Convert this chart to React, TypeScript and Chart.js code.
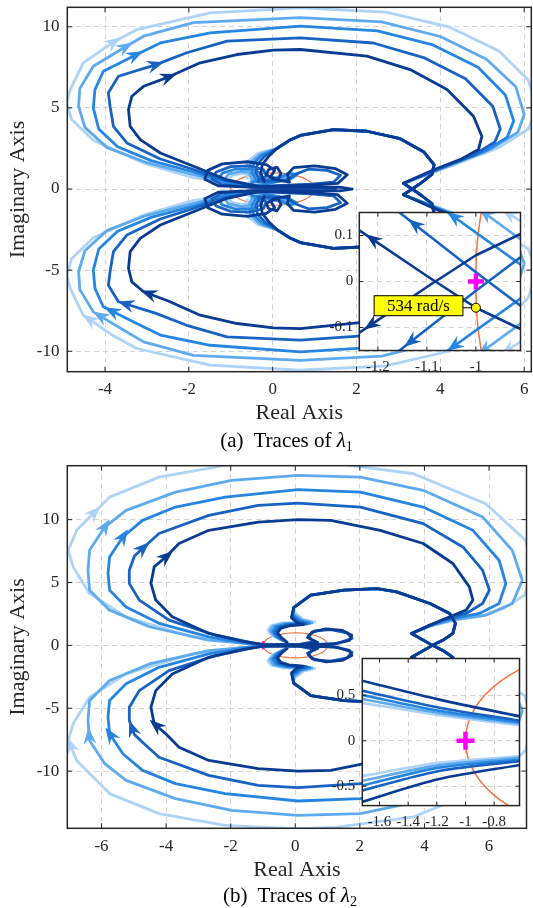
import React, { useEffect, useRef } from "react";
import { Chart, registerables } from "chart.js";

Chart.register(...registerables);

type P = [number, number];

// ================= shared styling =================
const SHADES = ["#aed3f6", "#5eaaee", "#2585e0", "#1862c2", "#0a3b93"]; // lightest -> darkest
const CIRCLE_COLOR = "#f2733f";
const MARK_COLOR = "#ff00ff";
const TEXT = "#262626";
const SERIF = "'Liberation Serif', 'Times New Roman', 'DejaVu Serif', serif";

// ================= (a) traces of λ1 =================
const topXRange: P = [-4.9, 6.17];
const topYRange: P = [-11.26, 11.2];
const topXTicks = [-4, -2, 0, 2, 4, 6];
const topYTicks = [-10, -5, 0, 5, 10];

// upper-half branch of each trace (the lower half is its conjugate mirror)
const topLoopC1: P[] = [
  [0.3, 0], [-0.4, 0.12], [-0.85, 0.35],
  [-1.05, 0.62], [-0.95, 0.85], [-0.72, 0.95], [-0.5, 0.85], [-0.42, 0.62], [-0.55, 0.45],
  [-0.5, 0.22], [-1.3, 0.48], [-1.89, 0.7], [-3.08, 1.6], [-4.28, 3.0], [-4.8, 4.3], [-4.91, 5.3], [-4.83, 6.13],
  [-4.52, 7.78], [-3.8, 9.05], [-3.24, 9.83], [-1.49, 10.86], [0.66, 11.17], [2.7, 10.9], [4.2, 10.0], [5.4, 8.5],
  [6.1, 6.7], [6.3, 5.0], [6.1, 3.7], [5.4, 2.55], [4.3, 1.47], [3.12, 0.35], [3.33, 0],
];
const topLoopC2: P[] = [
  [0.5, 0], [-0.2, 0.1], [-0.9, 0.3],
  [-1.15, 0.6], [-1.05, 0.92], [-0.75, 1.08], [-0.45, 0.98], [-0.35, 0.7], [-0.5, 0.45],
  [0.25, 0.8], [0.4, 1.0], [0.52, 0.85],
  [-0.45, 0.2], [-1.25, 0.5], [-1.89, 0.88], [-3.0, 1.62], [-3.95, 2.55], [-4.48, 3.8], [-4.63, 5.1], [-4.6, 6.2],
  [-4.28, 7.57], [-3.52, 8.75], [-3.08, 9.42], [-1.89, 10.25], [0.66, 10.56], [2.6, 10.3], [4.0, 9.4], [5.1, 8.0],
  [5.8, 6.3], [6.0, 4.6], [5.85, 3.5], [5.2, 2.45], [4.2, 1.42], [3.12, 0.35], [3.33, 0],
];
const topLoopC3: P[] = [
  [0.9, 0], [0.3, 0.08], [-0.5, 0.12], [-1.1, 0.3],
  [-1.3, 0.62], [-1.2, 0.98], [-0.9, 1.22], [-0.5, 1.22], [-0.28, 0.98], [-0.3, 0.62], [-0.5, 0.4],
  [0.2, 0.72], [0.38, 0.98], [0.58, 0.88], [0.42, 0.62],
  [-0.4, 0.18], [-1.2, 0.52], [-1.89, 1.05], [-2.9, 1.75], [-3.7, 2.6], [-4.15, 3.7], [-4.28, 5.0], [-4.24, 6.13],
  [-4.04, 7.26], [-3.28, 8.25], [-2.68, 9.0], [-1.49, 9.63], [0.66, 10.04], [2.5, 9.75], [3.8, 8.9], [4.9, 7.5],
  [5.55, 5.8], [5.75, 4.2], [5.6, 3.2], [5.05, 2.3], [4.1, 1.38], [3.12, 0.35], [3.33, 0],
];
const topLoopC4: P[] = [
  [1.5, 0], [1.2, 0.1], [0.3, 0.09], [-0.5, 0.12], [-1.2, 0.25],
  [-1.45, 0.62], [-1.35, 1.05], [-1.0, 1.38], [-0.55, 1.42], [-0.22, 1.2], [-0.15, 0.8], [-0.35, 0.48],
  [0.3, 0.5], [0.55, 0.92], [0.85, 1.22], [1.3, 1.15], [1.62, 0.85], [1.45, 0.42], [0.9, 0.3],
  [-0.35, 0.16], [-1.15, 0.55], [-1.89, 1.2], [-2.68, 1.85], [-3.48, 2.84], [-3.8, 3.86], [-3.88, 5.1], [-3.92, 5.93],
  [-3.68, 6.95], [-2.8, 7.65], [-2.05, 8.4], [-1.09, 9.11], [0.66, 9.32], [2.4, 9.0], [3.6, 8.1], [4.6, 6.8],
  [5.25, 5.1], [5.43, 3.7], [5.3, 2.9], [4.8, 2.1], [3.95, 1.25], [3.12, 0.35], [3.33, 0],
];
const topLoopC5: P[] = [
  [1.9, 0], [1.6, 0.12], [0.6, 0.1], [-0.4, 0.1], [-1.3, 0.2],
  [-1.62, 0.6], [-1.55, 1.15], [-1.2, 1.55], [-0.6, 1.68], [-0.15, 1.5], [0.05, 1.15], [-0.05, 0.75],
  [0.12, 0.58], [0.2, 0.95], [0.1, 1.35], [-0.1, 1.2], [-0.15, 0.9], [0.0, 0.62],
  [0.4, 0.42], [0.35, 0.9], [0.5, 1.32], [1.0, 1.42], [1.5, 1.25], [1.78, 0.88], [1.55, 0.35], [1.0, 0.25], [0.5, 0.2],
  [-0.3, 0.14], [-1.09, 0.57], [-1.89, 1.4], [-2.68, 2.22], [-3.16, 3.04], [-3.4, 3.86], [-3.44, 4.9], [-3.36, 5.72],
  [-3.08, 6.33], [-2.49, 6.9], [-1.73, 7.78], [-0.85, 8.29], [0.02, 8.56], [0.66, 8.6], [2.25, 8.19], [3.28, 7.36],
  [4.16, 6.13], [4.79, 4.48], [4.99, 3.25], [4.91, 2.43], [4.47, 1.81], [3.84, 1.19], [3.12, 0.35], [3.33, 0],
];
// inner arc (upper half): colour-specific start, shared tail
const topArcLeadC1: P[] = [[-0.6, 0.65], [-0.66, 1.15], [-0.6, 1.7], [-0.35, 2.2]];
const topArcLeadC2: P[] = [[-0.5, 0.6], [-0.58, 1.1], [-0.52, 1.65], [-0.3, 2.15]];
const topArcLeadC3: P[] = [[-0.4, 0.55], [-0.5, 1.05], [-0.45, 1.6], [-0.25, 2.1]];
const topArcLeadC4: P[] = [[-0.3, 0.5], [-0.4, 1.0], [-0.36, 1.55], [-0.18, 2.05]];
const topArcLeadC5: P[] = [[-0.2, 0.45], [-0.28, 0.95], [-0.25, 1.5], [-0.1, 2.0]];
const topArcTail: P[] = [
  [0.1, 2.5], [0.4, 3.0], [0.66, 3.3], [1.45, 3.66], [2.25, 3.56], [3.04, 3.1], [3.6, 2.3], [3.85, 1.5],
  [3.8, 0.9], [3.55, 0.4], [3.33, 0],
];
// arrow head positions, lightest -> darkest
const topArrowsUpper: P[] = [[-3.8, 9.0], [-3.52, 8.7], [-3.28, 8.19], [-2.8, 7.57], [-2.49, 6.85]];
const topArrowsLower: P[] = [[-4.36, -8.07], [-4.08, -7.76], [-3.76, -7.25], [-3.44, -6.73], [-2.92, -6.32]];

// ----- (a) zoom inset -----
const insetTopXRange: P = [-1.238, -0.909];
const insetTopYRange: P = [-0.15, 0.15];
const insetTopXTicks = [-1.2, -1.1, -1];
const insetTopYTicks = [-0.1, 0, 0.1];
const insetTopC1: P[] = [[-0.9, 0.125], [-0.965, 0.17]];
const insetTopC2: P[] = [[-0.9, 0.085], [-1.01, 0.17]];
const insetTopC3: P[] = [[-0.9, 0.03], [-1.09, 0.175]];
const insetTopC4: P[] = [[-0.9, -0.06], [-1.0, 0.02], [-1.18, 0.17]];
const insetTopC5: P[] = [[-0.9, -0.108], [-1.0, -0.057], [-1.1, 0.012], [-1.25, 0.12]];
const insetTopArrowsA: P[] = [[-0.936, 0.14], [-0.984, 0.14], [-1.048, 0.133], [-1.121, 0.126], [-1.211, 0.088]];
const insetTopArrowsB: P[] = [[-0.939, -0.139], [-0.99, -0.136], [-1.048, -0.132], [-1.137, -0.122], [-1.214, -0.091]];
const datatipPoint: P = [-1.0, -0.057];
const datatipLabel = "534 rad/s";

// ================= (b) traces of λ2 =================
const botXRange: P = [-7.06, 7.16];
const botYRange: P = [-14.55, 14.29];
const botXTicks = [-6, -4, -2, 0, 2, 4, 6];
const botYTicks = [-10, -5, 0, 5, 10];

const botLoopC1: P[] = [
  [0.1, 0], [-0.6, 0.03], [-1.1, 0.08],
  [-1.9, 0.25], [-3.2, 0.68], [-5.24, 2.27], [-6.37, 4.13], [-6.88, 6.24], [-7.03, 7.56], [-6.77, 9.15],
  [-6.21, 10.6], [-5.75, 11.79], [-4.22, 13.38], [-2.17, 14.31], [0.08, 14.6], [1.3, 14.45], [3.66, 13.65],
  [5.9, 11.27], [7.13, 8.36], [7.35, 6.0], [7.1, 4.0], [6.5, 3.0], [5.8, 2.35], [4.95, 2.0], [4.2, 1.55],
  [3.6, 0.95], [4.25, 0],
];
const botLoopC2: P[] = [
  [0.1, 0], [-0.6, 0.03], [-1.1, 0.07],
  [-1.7, 0.2], [-2.68, 0.42], [-4.52, 1.48], [-5.75, 2.8], [-6.37, 4.39], [-6.42, 5.98], [-6.37, 7.56],
  [-5.9, 9.41], [-5.24, 10.74], [-3.71, 12.19], [-1.97, 13.12], [0.08, 13.52], [2.02, 13.38], [3.96, 12.33],
  [5.8, 10.21], [6.72, 7.56], [7.03, 5.18], [6.72, 3.33], [5.9, 2.4], [4.9, 2.05], [4.18, 1.55], [3.6, 0.95], [4.25, 0],
];
const botLoopC3: P[] = [
  [0.1, 0], [-0.6, 0.03], [-1.1, 0.06],
  [-1.6, 0.2], [-2.68, 0.68], [-4.22, 1.75], [-5.24, 3.06], [-5.75, 4.39], [-5.8, 5.71], [-5.75, 7.03],
  [-5.34, 8.62], [-4.73, 9.94], [-3.71, 11.0], [-2.17, 11.79], [0.08, 12.38], [2.02, 12.19], [3.96, 11.0],
  [5.5, 9.15], [6.31, 6.77], [6.52, 4.92], [6.31, 3.33], [5.7, 2.54], [4.75, 2.05], [4.15, 1.55], [3.6, 0.95], [4.25, 0],
];
const botLoopC4: P[] = [
  [-0.2, 0], [0.6, 0.05], [1.3, 0.15], [1.76, 0.55], [1.6, 1.0], [1.1, 1.25], [0.6, 1.15], [0.4, 0.75], [0.55, 0.3],
  [0.1, 0.06], [-1.0, 0.06],
  [-1.36, 0.21], [-2.48, 0.82], [-3.91, 2.01], [-4.83, 3.6], [-5.14, 4.92], [-5.14, 5.98], [-4.98, 7.1], [-4.73, 7.7],
  [-4.22, 8.9], [-2.68, 10.34], [-1.15, 11.13], [0.08, 11.32], [2.02, 11.0], [3.96, 9.68], [5.19, 7.83], [5.8, 5.98],
  [6.01, 4.39], [5.8, 3.33], [5.29, 2.54], [4.55, 2.0], [4.12, 1.55], [3.6, 0.95], [4.25, 0],
];
const botLoopC5: P[] = [
  [-0.3, 0], [0.5, 0.06], [1.2, 0.12], [1.68, 0.4], [1.75, 0.8], [1.45, 1.2], [0.95, 1.32], [0.52, 1.05], [0.38, 0.62],
  [0.7, 0.22], [0.2, 0.08], [-0.94, 0.04],
  [-1.56, 0.29], [-2.68, 0.95], [-3.81, 2.27], [-4.32, 3.6], [-4.47, 4.92], [-4.37, 6.24], [-4.01, 7.03], [-3.6, 8.1],
  [-2.68, 9.15], [-1.15, 9.81], [0.08, 10.0], [1.1, 9.94], [2.63, 9.15], [3.96, 8.1], [4.88, 6.51], [5.39, 4.65],
  [5.5, 3.6], [5.29, 2.8], [4.78, 2.27], [4.17, 1.61], [3.6, 0.95], [4.25, 0],
];
const botArcLeadC1: P[] = [[-0.45, 0.45], [-0.72, 0.8], [-0.85, 1.2], [-0.75, 1.58], [-0.4, 1.78], [0.6, 1.85], [0.25, 2.05], [-0.02, 2.6]];
const botArcLeadC2: P[] = [[-0.4, 0.4], [-0.65, 0.75], [-0.78, 1.15], [-0.68, 1.53], [-0.35, 1.72], [0.52, 1.8], [0.2, 2.0], [-0.05, 2.5]];
const botArcLeadC3: P[] = [[-0.35, 0.35], [-0.58, 0.7], [-0.7, 1.1], [-0.6, 1.48], [-0.3, 1.68], [0.45, 1.75], [0.15, 1.95], [-0.08, 2.4]];
const botArcLeadC4: P[] = [[-0.3, 0.3], [-0.5, 0.65], [-0.62, 1.05], [-0.52, 1.42], [-0.25, 1.62], [0.35, 1.7], [0.1, 1.88], [-0.1, 2.3]];
const botArcLeadC5: P[] = [[-0.25, 0.25], [-0.42, 0.6], [-0.55, 1.0], [-0.45, 1.35], [-0.2, 1.55], [0.25, 1.65], [0.05, 1.8], [-0.12, 2.2]];
const botArcTail: P[] = [
  [-0.05, 3.0], [0.48, 3.99], [1.51, 4.39], [2.53, 4.52], [3.14, 4.25], [4.17, 3.33], [4.78, 2.54], [4.96, 1.75],
  [4.88, 0.95], [4.6, 0.45], [4.25, 0],
];
const botArrowsUpper: P[] = [[-6.21, 10.48], [-5.9, 9.41], [-5.34, 8.62], [-4.73, 7.7], [-4.01, 7.03]];
const botArrowsLower: P[] = [[-6.88, -7.91], [-6.37, -7.25], [-5.7, -7.12], [-4.98, -6.59], [-4.22, -6.19]];

// ----- (b) zoom inset -----
const insetBotXRange: P = [-1.72, -0.623];
const insetBotYRange: P = [-0.714, 0.906];
const insetBotXTicks = [-1.6, -1.4, -1.2, -1, -0.8];
const insetBotYTicks = [-0.5, 0, 0.5];
const insetBotUpC1: P[] = [[-1.75, 0.425], [-1.183, 0.282], [-0.6, 0.166]];
const insetBotUpC2: P[] = [[-1.75, 0.468], [-1.183, 0.304], [-0.6, 0.183]];
const insetBotUpC3: P[] = [[-1.75, 0.515], [-1.183, 0.329], [-0.6, 0.2]];
const insetBotUpC4: P[] = [[-1.75, 0.563], [-1.183, 0.364], [-0.6, 0.216]];
const insetBotUpC5: P[] = [[-1.75, 0.672], [-1.183, 0.453], [-0.6, 0.262]];
const insetBotLowC1: P[] = [[-1.75, -0.397], [-1.183, -0.243], [-0.6, -0.169]];
const insetBotLowC2: P[] = [[-1.75, -0.452], [-1.183, -0.268], [-0.6, -0.186]];
const insetBotLowC3: P[] = [[-1.75, -0.505], [-1.183, -0.296], [-0.6, -0.203]];
const insetBotLowC4: P[] = [[-1.75, -0.56], [-1.183, -0.332], [-0.6, -0.22]];
const insetBotLowC5: P[] = [[-1.75, -0.685], [-1.183, -0.421], [-0.6, -0.262]];

// unit circle (upper half) and critical point
const unitCircleUpper: P[] = [
  [1, 0], [0.985, 0.174], [0.94, 0.342], [0.866, 0.5], [0.766, 0.643], [0.643, 0.766], [0.5, 0.866], [0.342, 0.94],
  [0.174, 0.985], [0, 1], [-0.174, 0.985], [-0.342, 0.94], [-0.5, 0.866], [-0.643, 0.766], [-0.766, 0.643],
  [-0.866, 0.5], [-0.94, 0.342], [-0.985, 0.174], [-1, 0],
];
const criticalPoint: P = [-1, 0];

// ================= helpers =================
const mirror = (pts: P[]): P[] => pts.map(([x, y]) => [x, -y] as P);
const reversed = (pts: P[]): P[] => pts.slice().reverse();
const xy = (pts: P[]) => pts.map(([x, y]) => ({ x, y }));
const fullTrace = (arc: P[], loop: P[]): P[] => [...arc, ...reversed(mirror(loop)), ...loop, ...reversed(mirror(arc))];
const fullCircle = (): P[] => [...unitCircleUpper, ...reversed(mirror(unitCircleUpper)).slice(1)];

function lineDs(pts: P[], color: string, width: number, order: number, extra: any = {}) {
  return {
    data: xy(pts),
    showLine: true,
    borderColor: color,
    backgroundColor: color,
    borderWidth: width,
    pointRadius: 0,
    tension: 0,
    clip: 0,
    order,
    borderJoinStyle: "round",
    borderCapStyle: "round",
    ...extra,
  };
}
function markDs(pt: P, radius: number, width: number, order: number) {
  return {
    data: xy([pt]),
    showLine: false,
    pointStyle: "cross",
    pointRadius: radius,
    pointBorderWidth: width,
    pointBorderColor: MARK_COLOR,
    clip: 0,
    order,
  };
}

// ================= plugins =================
const framePlugin = {
  id: "frame",
  beforeDraw(chart: any, _a: any, opts: any) {
    if (!opts || !opts.fill) return;
    const { ctx, chartArea: a } = chart;
    ctx.save();
    ctx.fillStyle = opts.fill;
    ctx.fillRect(a.left, a.top, a.right - a.left, a.bottom - a.top);
    ctx.restore();
  },
  afterDraw(chart: any, _a: any, opts: any) {
    const { ctx, chartArea: a, scales } = chart;
    const sx = scales.x, sy = scales.y;
    const tl = (opts && opts.tickLen) || 5;
    ctx.save();
    ctx.strokeStyle = TEXT;
    ctx.lineWidth = 1;
    ctx.beginPath();
    for (const t of sx.ticks) {
      const px = sx.getPixelForValue(t.value);
      ctx.moveTo(px, a.bottom); ctx.lineTo(px, a.bottom - tl);
      ctx.moveTo(px, a.top); ctx.lineTo(px, a.top + tl);
    }
    for (const t of sy.ticks) {
      const py = sy.getPixelForValue(t.value);
      ctx.moveTo(a.left, py); ctx.lineTo(a.left + tl, py);
      ctx.moveTo(a.right, py); ctx.lineTo(a.right - tl, py);
    }
    ctx.stroke();
    ctx.lineWidth = 1.5;
    ctx.strokeRect(a.left, a.top, a.right - a.left, a.bottom - a.top);
    ctx.restore();
  },
};

const arrowPlugin = {
  id: "arrowHeads",
  afterDatasetsDraw(chart: any) {
    const { ctx, chartArea: a, scales } = chart;
    const sx = scales.x, sy = scales.y;
    ctx.save();
    ctx.beginPath();
    ctx.rect(a.left, a.top, a.right - a.left, a.bottom - a.top);
    ctx.clip();
    chart.data.datasets.forEach((ds: any) => {
      if (!ds.arrowPts) return;
      const pts = ds.data.map((p: any) => [sx.getPixelForValue(p.x), sy.getPixelForValue(p.y)]);
      ds.arrowPts.forEach(([ax, ay]: P) => {
        const px = sx.getPixelForValue(ax), py = sy.getPixelForValue(ay);
        let best = Infinity, bx = px, by = py, dx = 1, dy = 0;
        for (let i = 0; i < pts.length - 1; i++) {
          const [x1, y1] = pts[i], [x2, y2] = pts[i + 1];
          const vx = x2 - x1, vy = y2 - y1;
          const L2 = vx * vx + vy * vy;
          if (!L2) continue;
          let t = ((px - x1) * vx + (py - y1) * vy) / L2;
          t = Math.max(0, Math.min(1, t));
          const qx = x1 + t * vx, qy = y1 + t * vy;
          const d = (qx - px) ** 2 + (qy - py) ** 2;
          if (d < best) { best = d; bx = qx; by = qy; dx = vx; dy = vy; }
        }
        const L = Math.hypot(dx, dy) || 1;
        const ux = dx / L, uy = dy / L, nx = -uy, ny = ux;
        const len = ds.arrowLen || 17, w = ds.arrowWidth || 13;
        ctx.fillStyle = ds.borderColor;
        ctx.beginPath();
        ctx.moveTo(bx + ux * len * 0.55, by + uy * len * 0.55);
        ctx.lineTo(bx - ux * len * 0.45 + (nx * w) / 2, by - uy * len * 0.45 + (ny * w) / 2);
        ctx.lineTo(bx - ux * len * 0.12, by - uy * len * 0.12);
        ctx.lineTo(bx - ux * len * 0.45 - (nx * w) / 2, by - uy * len * 0.45 - (ny * w) / 2);
        ctx.closePath();
        ctx.fill();
      });
    });
    ctx.restore();
  },
};

const datatipPlugin = {
  id: "datatip",
  afterDatasetsDraw(chart: any, _a: any, opts: any) {
    if (!opts || !opts.text) return;
    const { ctx, scales } = chart;
    const px = scales.x.getPixelForValue(opts.px), py = scales.y.getPixelForValue(opts.py);
    ctx.save();
    ctx.font = `17px ${SERIF}`;
    const tw = ctx.measureText(opts.text).width;
    const bw = tw + 26, bh = 20;
    const right = px - 13, cy = py - 2;
    ctx.strokeStyle = "#000";
    ctx.lineWidth = 1;
    ctx.beginPath();
    ctx.moveTo(right, py);
    ctx.lineTo(px - 4, py);
    ctx.stroke();
    ctx.fillStyle = "#ffff00";
    ctx.fillRect(right - bw, cy - bh / 2, bw, bh);
    ctx.strokeRect(right - bw, cy - bh / 2, bw, bh);
    ctx.fillStyle = "#000";
    ctx.textAlign = "center";
    ctx.textBaseline = "middle";
    ctx.fillText(opts.text, right - bw / 2, cy + 1);
    ctx.restore();
  },
};

// ================= config builder =================
function axis(range: P, ticks: number[], fontSize: number, pad: number, fixed: number, title?: { text: string; padding: any }) {
  return {
    type: "linear",
    min: range[0],
    max: range[1],
    afterBuildTicks: (s: any) => { s.ticks = ticks.map((v) => ({ value: v })); },
    afterFit: (s: any) => {
      if (s.isHorizontal()) s.height = fixed; else s.width = fixed;
      s.paddingTop = 0; s.paddingBottom = 0; s.paddingLeft = 0; s.paddingRight = 0;
    },
    ticks: {
      callback: (v: any) => String(v),
      font: { family: SERIF, size: fontSize },
      color: TEXT,
      padding: pad,
      maxRotation: 0,
      minRotation: 0,
      autoSkip: false,
    },
    grid: { color: "#d3d3d3", lineWidth: 1, drawTicks: false },
    border: { display: false, dash: [5, 4] },
    title: title
      ? { display: true, text: title.text, font: { family: SERIF, size: 22 }, color: TEXT, padding: title.padding }
      : { display: false },
  };
}

function buildConfig(o: any) {
  return {
    type: "scatter",
    data: { datasets: o.datasets },
    options: {
      animation: false,
      responsive: false,
      devicePixelRatio: 1,
      events: [],
      layout: { padding: o.layoutPad },
      scales: {
        x: axis(o.xr, o.xt, o.fontSize, o.xPad, o.xHeight, o.xTitle),
        y: axis(o.yr, o.yt, o.fontSize, o.yPad, o.yWidth, o.yTitle),
      },
      plugins: {
        legend: { display: false },
        tooltip: { enabled: false },
        frame: { fill: o.fill, tickLen: o.tickLen },
        datatip: o.datatip || {},
      },
    },
    plugins: [framePlugin, arrowPlugin, datatipPlugin],
  };
}

function traceSets(loops: P[][], arcs: P[][], up: P[], low: P[]) {
  return loops.map((loop, i) =>
    lineDs(fullTrace(arcs[i], loop), SHADES[i], 2.8, 5 - i, { arrowPts: [up[i], low[i]] })
  );
}

function topMainConfig() {
  const tail = topArcTail;
  const arcs = [topArcLeadC1, topArcLeadC2, topArcLeadC3, topArcLeadC4, topArcLeadC5].map((l) => [...l, ...tail]);
  const loops = [topLoopC1, topLoopC2, topLoopC3, topLoopC4, topLoopC5];
  return buildConfig({
    datasets: [
      lineDs(fullCircle(), CIRCLE_COLOR, 1.2, 30, { tension: 0.4 }),
      ...traceSets(loops, arcs, topArrowsUpper, topArrowsLower),
    ],
    xr: topXRange, yr: topYRange, xt: topXTicks, yt: topYTicks,
    fontSize: 17, xPad: 8, yPad: 7.8, yWidth: 67.3, xHeight: 83.3,
    layoutPad: { left: 0, top: 7.3, right: 1.7, bottom: 0 },
    xTitle: { text: "Real Axis", padding: { top: 0, bottom: 28.8 } },
    yTitle: { text: "Imaginary Axis", padding: { top: 4.7, bottom: 0 } },
    tickLen: 5,
  });
}

function botMainConfig() {
  const tail = botArcTail;
  const arcs = [botArcLeadC1, botArcLeadC2, botArcLeadC3, botArcLeadC4, botArcLeadC5].map((l) => [...l, ...tail]);
  const loops = [botLoopC1, botLoopC2, botLoopC3, botLoopC4, botLoopC5];
  return buildConfig({
    datasets: [
      lineDs(fullCircle(), CIRCLE_COLOR, 1.2, 30, { tension: 0.4 }),
      markDs(criticalPoint, 4, 2.5, 25),
      ...traceSets(loops, arcs, botArrowsUpper, botArrowsLower),
    ],
    xr: botXRange, yr: botYRange, xt: botXTicks, yt: botYTicks,
    fontSize: 17, xPad: 8.2, yPad: 8, yWidth: 67.3, xHeight: 79.7,
    layoutPad: { left: 0, top: 10.7, right: 1.7, bottom: 0 },
    xTitle: { text: "Real Axis", padding: { top: 0, bottom: 24.8 } },
    yTitle: { text: "Imaginary Axis", padding: { top: 4.7, bottom: 0 } },
    tickLen: 5,
  });
}

function topInsetConfig() {
  const lines = [insetTopC1, insetTopC2, insetTopC3, insetTopC4, insetTopC5];
  const sets: any[] = [];
  lines.forEach((l, i) => {
    sets.push(lineDs(l, SHADES[i], 2.6, 5 - i, { arrowPts: [insetTopArrowsA[i]] }));
    sets.push(lineDs(mirror(l), SHADES[i], 2.6, 5 - i, { arrowPts: [insetTopArrowsB[i]] }));
  });
  return buildConfig({
    datasets: [
      lineDs(fullCircle(), CIRCLE_COLOR, 1.5, 30, { tension: 0.4 }),
      ...sets,
      markDs(criticalPoint, 8, 4.5, 0),
      {
        data: xy([datatipPoint]),
        showLine: false,
        pointStyle: "circle",
        pointRadius: 4.5,
        pointBackgroundColor: "#ffff00",
        pointBorderColor: "#000",
        pointBorderWidth: 1,
        clip: 0,
        order: -1,
      },
    ],
    xr: insetTopXRange, yr: insetTopYRange, xt: insetTopXTicks, yt: insetTopYTicks,
    fontSize: 15, xPad: 7.2, yPad: 6, yWidth: 39.3, xHeight: 29.5,
    layoutPad: { left: 0, top: 5, right: 2, bottom: 0 },
    fill: "#ffffff",
    tickLen: 4,
    datatip: { px: datatipPoint[0], py: datatipPoint[1], text: datatipLabel },
  });
}

function botInsetConfig() {
  const ups = [insetBotUpC1, insetBotUpC2, insetBotUpC3, insetBotUpC4, insetBotUpC5];
  const lows = [insetBotLowC1, insetBotLowC2, insetBotLowC3, insetBotLowC4, insetBotLowC5];
  const sets: any[] = [];
  ups.forEach((l, i) => {
    sets.push(lineDs(l, SHADES[i], 2.6, 5 - i, { tension: 0.3 }));
    sets.push(lineDs(lows[i], SHADES[i], 2.6, 5 - i, { tension: 0.3 }));
  });
  return buildConfig({
    datasets: [
      lineDs(fullCircle(), CIRCLE_COLOR, 1.5, 30, { tension: 0.4 }),
      ...sets,
      markDs(criticalPoint, 9, 4.5, 0),
    ],
    xr: insetBotXRange, yr: insetBotYRange, xt: insetBotXTicks, yt: insetBotYTicks,
    fontSize: 15, xPad: 7.7, yPad: 7, yWidth: 42.3, xHeight: 29.4,
    layoutPad: { left: 0, top: 9.5, right: 5.7, bottom: 0 },
    fill: "#ffffff",
    tickLen: 4,
  });
}

// ================= components =================
function PlotCanvas(props: { left: number; top: number; width: number; height: number; build: () => any }) {
  const ref = useRef<HTMLCanvasElement | null>(null);
  useEffect(() => {
    if (!ref.current) return;
    const chart = new Chart(ref.current, props.build() as any);
    return () => chart.destroy();
  }, []);
  const { left, top, width, height } = props;
  return (
    <canvas
      ref={ref}
      width={width}
      height={height}
      style={{ position: "absolute", left, top, width, height, display: "block" }}
    />
  );
}

function Caption(props: { cx: number; top: number; tag: string; sub: string }) {
  return (
    <div
      style={{
        position: "absolute",
        left: props.cx - 200,
        top: props.top,
        width: 400,
        textAlign: "center",
        fontFamily: SERIF,
        fontSize: 21,
        lineHeight: "22px",
        color: "#000",
        whiteSpace: "nowrap",
      }}
    >
      {props.tag}
      <span style={{ display: "inline-block", width: 10 }} />
      Traces of <span style={{ fontStyle: "italic" }}>λ</span>
      <sub style={{ fontSize: 14, lineHeight: 0, verticalAlign: "-4px" }}>{props.sub}</sub>
    </div>
  );
}

export default function App() {
  return (
    <div style={{ position: "absolute", left: 0, top: 0, width: 533, height: 908, background: "#fff", overflow: "hidden" }}>
      <PlotCanvas left={0} top={0} width={533} height={455} build={topMainConfig} />
      <PlotCanvas left={320} top={200} width={213} height={180} build={topInsetConfig} />
      <Caption cx={286.5} top={429} tag="(a)" sub="1" />
      <PlotCanvas left={0} top={455} width={533} height={453} build={botMainConfig} />
      <PlotCanvas left={320} top={645} width={213} height={190} build={botInsetConfig} />
      <Caption cx={290} top={884} tag="(b)" sub="2" />
    </div>
  );
}
